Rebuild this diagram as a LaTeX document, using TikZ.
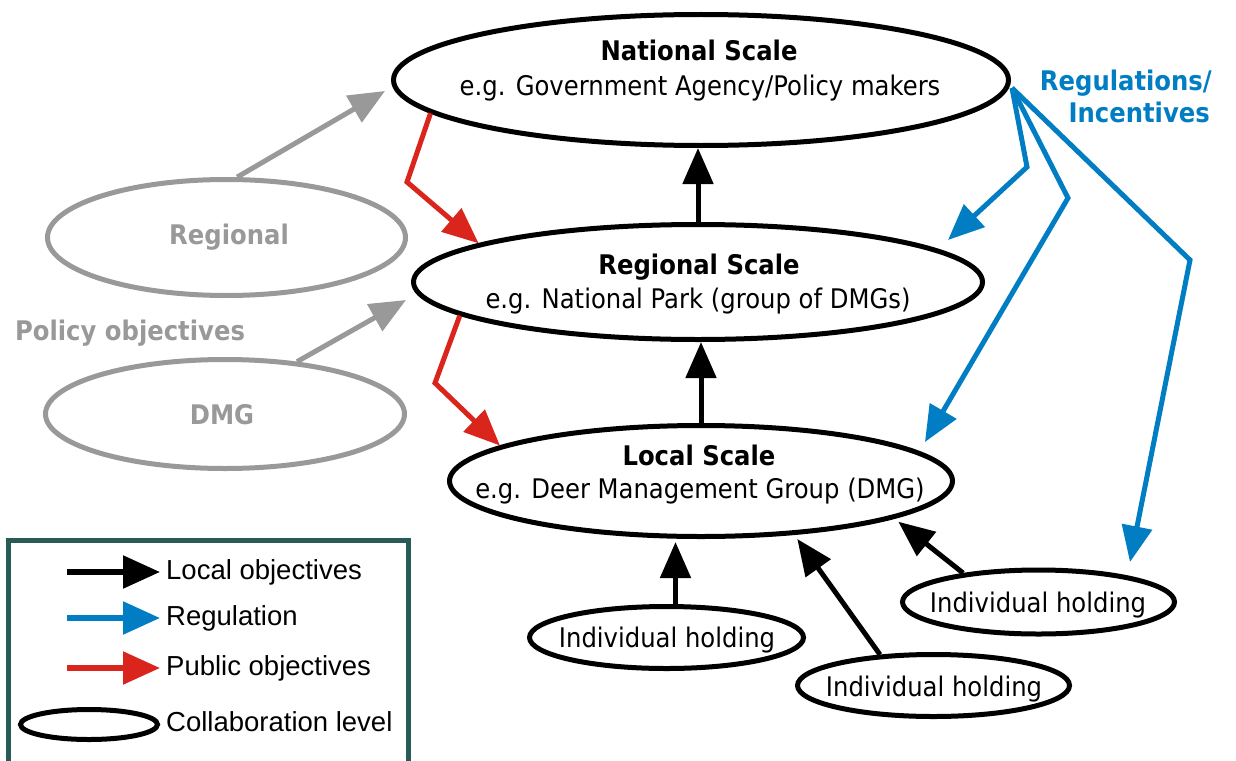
\documentclass[tikz,border=0pt]{standalone}
\usepackage{fontspec}
\setmainfont{DejaVu Sans}[FakeStretch=0.9]
\newfontfamily\legendfont{Liberation Sans}
\usetikzlibrary{shapes.geometric,arrows.meta}
\definecolor{regblue}{RGB}{0,125,195}
\definecolor{pubred}{RGB}{218,37,29}
\definecolor{policygray}{RGB}{153,153,153}
\definecolor{boxteal}{RGB}{40,90,86}

\begin{document}
\begin{tikzpicture}[x=1pt,y=-1pt,
  level/.style={ellipse, draw=black, line width=5pt, inner sep=0pt},
  ghost/.style={ellipse, draw=policygray, line width=5pt, inner sep=0pt},
  txt/.style={font=\fontsize{27}{34}\selectfont, inner sep=0pt, anchor=base},
  btxt/.style={font=\fontsize{27}{34}\selectfont\bfseries, inner sep=0pt, anchor=base},
  ltxt/.style={font=\legendfont\fontsize{27.5}{33}\selectfont, inner sep=0pt, anchor=west},
  flow/.style={line width=5pt, -{Triangle[length=36pt,width=30pt]}},
  keyarrow/.style={line width=5.5pt, -{Triangle[length=37pt,width=32pt]}},
]
\useasboundingbox (0,0) rectangle (1236,760);

% scale levels
\node[level, minimum width=615pt, minimum height=131pt] (nat) at (701,80) {};
\node[level, minimum width=569pt, minimum height=115pt] (reg) at (698,282) {};
\node[level, minimum width=503pt, minimum height=111pt] (loc) at (701,481) {};
\node[btxt] (natT) at (699,60) {National Scale};
\node[txt]  (natS) at (700,95) {e.g. Government Agency/Policy makers};
\node[btxt] (regT) at (699,274) {Regional Scale};
\node[txt]  (regS) at (698,308) {e.g. National Park (group of DMGs)};
\node[btxt] (locT) at (699,465) {Local Scale};
\node[txt]  (locS) at (700,498) {e.g. Deer Management Group (DMG)};

% individual holdings
\node[level, minimum width=274pt, minimum height=62pt] (ih1) at (666.5,637.5) {};
\node[level, minimum width=272pt, minimum height=62pt] (ih2) at (933.5,685.5) {};
\node[level, minimum width=272pt, minimum height=64pt] (ih3) at (1038.5,602) {};
\node[txt] (ih1t) at (667,647) {Individual holding};
\node[txt] (ih2t) at (934,696) {Individual holding};
\node[txt] (ih3t) at (1038,612) {Individual holding};

% policy objective levels
\node[ghost, minimum width=358pt, minimum height=116pt] (greg) at (226.5,237.5) {};
\node[ghost, minimum width=359pt, minimum height=109pt] (gdmg) at (225,414) {};
\node[btxt, text=policygray] (gregT) at (229,244) {Regional};
\node[btxt, text=policygray] (gdmgT) at (222,424) {DMG};
\node[btxt, text=policygray] (polT) at (130,340) {Policy objectives};

% regulations label
\node[btxt, text=regblue, anchor=base east] (regl1) at (1212,90) {Regulations/};
\node[btxt, text=regblue, anchor=base east] (regl2) at (1210,122) {Incentives};

% local objectives (upwards)
\draw[flow] (reg.north) -- (reg.north |- nat.south);
\draw[flow] (loc.north) -- (loc.north |- reg.south);
\draw[flow, shorten >=3pt] ([xshift=9pt]ih1.north) -- ([xshift=9pt]ih1.north |- loc.south);
\draw[flow, shorten >=5pt] (ih2.150) -- (loc.330);
\draw[flow, shorten >=5pt] (ih3.159) -- (loc.349);

% policy objectives
\coordinate (gtipA) at (385,91);
\coordinate (gtipB) at (406,300);
\draw[flow, draw=policygray, fill=policygray] (greg.80) -- (gtipA);
\draw[flow, draw=policygray, fill=policygray] (gdmg.36) -- (gtipB);

% public objectives
\coordinate (rbendA) at (407,182);
\coordinate (rbendB) at (435,383);
\draw[flow, pubred] (nat.187) -- (rbendA) -- (reg.170);
\draw[flow, pubred] (reg.188) -- (rbendB) -- (loc.170);

% regulations / incentives
\coordinate (bsrc) at (1012,88);
\coordinate (bbendA) at (1027,167);
\coordinate (bbendB) at (1068,198);
\coordinate (bbendC) at (1190,260);
\coordinate (btipA) at (948,240);
\coordinate (btipB) at (925,442);
\coordinate (btipC) at (1130,562);
\draw[flow, regblue] (bsrc) -- (bbendA) -- (btipA);
\draw[flow, regblue] (bsrc) -- (bbendB) -- (btipB);
\draw[flow, regblue] (bsrc) -- (bbendC) -- (btipC);

% legend
\draw[boxteal, line width=5pt] (8,540) rectangle (408,770);
\coordinate (k1a) at (67,572);  \coordinate (k1b) at (160,572);
\coordinate (k2a) at (67,618);  \coordinate (k2b) at (160,618);
\coordinate (k3a) at (67,668);  \coordinate (k3b) at (160,668);
\draw[keyarrow, black]   (k1a) -- (k1b);
\draw[keyarrow, regblue] (k2a) -- (k2b);
\draw[keyarrow, pubred]  (k3a) -- (k3b);
\node[level, minimum width=137pt, minimum height=30pt] (k4) at (89,724.5) {};
\node[ltxt] (k1t) at (166,572) {Local objectives};
\node[ltxt] (k2t) at (166,618) {Regulation};
\node[ltxt] (k3t) at (166,668) {Public objectives};
\node[ltxt] (k4t) at (166,722) {Collaboration level};
\end{tikzpicture}
\end{document}
